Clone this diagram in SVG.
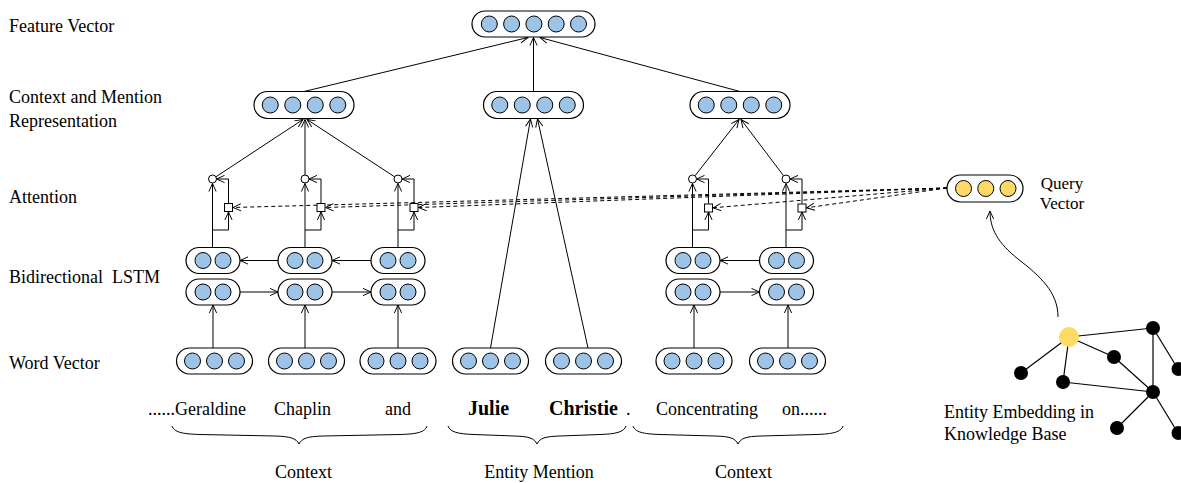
<svg xmlns="http://www.w3.org/2000/svg" width="1181" height="483" viewBox="0 0 1181 483">
<style>
.pill{fill:#fff;stroke:#000;stroke-width:1.2}
.b{fill:#9DC3E6;stroke:#000;stroke-width:1}
.yq{fill:#FFD966;stroke:#000;stroke-width:1}
.c line,.c polyline,.c path{stroke:#000;stroke-width:1;fill:none}
.dash{stroke-dasharray:4 3}
.att{fill:#fff;stroke:#000;stroke-width:1}
.t{font-family:"Liberation Serif","Times New Roman",serif;font-size:18px;fill:#000}
.bold{font-weight:bold;font-size:20px}
.gk{fill:#000}
.gy{fill:#FFD966}
.ge line{stroke:#000;stroke-width:1.2}
.brace{fill:none;stroke:#000;stroke-width:1}
</style>
<defs>
<marker id="arr" viewBox="0 0 10 10" refX="10" refY="5" markerWidth="8" markerHeight="8" markerUnits="userSpaceOnUse" orient="auto" overflow="visible">
<path d="M0,0.5 L10,5 L0,9.5" fill="none" stroke="#000" stroke-width="1.2"/>
</marker>
</defs>

<!-- left labels -->
<g id="labels">
<text class="t" x="9" y="32">Feature Vector</text>
<text class="t" x="9" y="103">Context and Mention</text>
<text class="t" x="9" y="127">Representation</text>
<text class="t" x="9" y="203">Attention</text>
<text class="t" x="9" y="283" xml:space="preserve">Bidirectional  LSTM</text>
<text class="t" x="9" y="369">Word Vector</text>
</g>

<!-- connectors -->
<g id="connectors" class="c">
<line x1="304" y1="91.5" x2="528" y2="37.5" marker-end="url(#arr)"/>
<line x1="533.5" y1="91.5" x2="533.5" y2="37.5" marker-end="url(#arr)"/>
<line x1="740" y1="91.5" x2="540" y2="37.5" marker-end="url(#arr)"/>
<line x1="490.5" y1="348" x2="530.5" y2="119" marker-end="url(#arr)"/>
<line x1="588" y1="348" x2="537.5" y2="119" marker-end="url(#arr)"/>

<!-- attention to representation -->
<line x1="215.9" y1="176.8" x2="303" y2="119.5" marker-end="url(#arr)"/>
<line x1="305" y1="175" x2="305" y2="119.5" marker-end="url(#arr)"/>
<line x1="394.6" y1="176.8" x2="307" y2="119.5" marker-end="url(#arr)"/>
<line x1="695" y1="175.8" x2="739" y2="119.5" marker-end="url(#arr)"/>
<line x1="783.6" y1="175.8" x2="741" y2="119.5" marker-end="url(#arr)"/>

<!-- attention internals -->
<line x1="212.5" y1="247.5" x2="212.5" y2="183.5" marker-end="url(#arr)"/>
<polyline points="212.5,230 228.5,230 228.5,212" marker-end="url(#arr)"/>
<polyline points="228.5,203.5 228.5,179 216.5,179" marker-end="url(#arr)"/>
<line x1="305" y1="247.5" x2="305" y2="183.5" marker-end="url(#arr)"/>
<polyline points="305,230 321,230 321,212" marker-end="url(#arr)"/>
<polyline points="321,203.5 321,179 309,179" marker-end="url(#arr)"/>
<line x1="398" y1="247.5" x2="398" y2="183.5" marker-end="url(#arr)"/>
<polyline points="398,230 414,230 414,212" marker-end="url(#arr)"/>
<polyline points="414,203.5 414,179 402,179" marker-end="url(#arr)"/>
<line x1="692.5" y1="247.5" x2="692.5" y2="183.5" marker-end="url(#arr)"/>
<polyline points="692.5,230 708.5,230 708.5,212" marker-end="url(#arr)"/>
<polyline points="708.5,203.5 708.5,179 696.5,179" marker-end="url(#arr)"/>
<line x1="786" y1="247.5" x2="786" y2="183.5" marker-end="url(#arr)"/>
<polyline points="786,230 802,230 802,212" marker-end="url(#arr)"/>
<polyline points="802,203.5 802,179 790,179" marker-end="url(#arr)"/>

<!-- query dashed -->
<line class="dash" x1="947" y1="188" x2="233" y2="207.5" marker-end="url(#arr)"/>
<line class="dash" x1="947" y1="188" x2="325.5" y2="207.5" marker-end="url(#arr)"/>
<line class="dash" x1="947" y1="188" x2="418.5" y2="207.5" marker-end="url(#arr)"/>
<line class="dash" x1="947" y1="188" x2="713" y2="207.8" marker-end="url(#arr)"/>
<line class="dash" x1="947" y1="188" x2="806.5" y2="207.8" marker-end="url(#arr)"/>

<!-- LSTM horizontal -->
<line x1="278" y1="260.5" x2="240" y2="260.5" marker-end="url(#arr)"/>
<line x1="371" y1="260.5" x2="332" y2="260.5" marker-end="url(#arr)"/>
<line x1="759.5" y1="260.5" x2="720" y2="260.5" marker-end="url(#arr)"/>
<line x1="240" y1="292" x2="278" y2="292" marker-end="url(#arr)"/>
<line x1="332" y1="292" x2="371" y2="292" marker-end="url(#arr)"/>
<line x1="720" y1="292" x2="759.5" y2="292" marker-end="url(#arr)"/>

<!-- word to LSTM -->
<line x1="213" y1="348" x2="213" y2="305" marker-end="url(#arr)"/>
<line x1="305" y1="348" x2="305" y2="305" marker-end="url(#arr)"/>
<line x1="398" y1="348" x2="398" y2="305" marker-end="url(#arr)"/>
<line x1="694" y1="348" x2="694" y2="305" marker-end="url(#arr)"/>
<line x1="788" y1="348" x2="788" y2="305" marker-end="url(#arr)"/>

<!-- KB to query -->
<path d="M1058,317 C1058,292 1040,276 1018,259 C998,243 990,229 990,211" marker-end="url(#arr)"/>
</g>

<!-- attention nodes -->
<g id="attention1"><circle class="att" cx="212.5" cy="179" r="4"/><rect class="att" x="224.5" y="203.5" width="8" height="8"/></g>
<g id="attention2"><circle class="att" cx="305" cy="179" r="4"/><rect class="att" x="317" y="203.5" width="8" height="8"/></g>
<g id="attention3"><circle class="att" cx="398" cy="179" r="4"/><rect class="att" x="410" y="203.5" width="8" height="8"/></g>
<g id="attention4"><circle class="att" cx="692.5" cy="179" r="4"/><rect class="att" x="704.5" y="204" width="8" height="8"/></g>
<g id="attention5"><circle class="att" cx="786" cy="179" r="4"/><rect class="att" x="798" y="204" width="8" height="8"/></g>

<!-- feature vector -->
<g id="feature-vector">
<rect class="pill" x="472" y="11" width="123" height="26" rx="13"/>
<circle class="b" cx="489.3" cy="24" r="8"/><circle class="b" cx="511.6" cy="24" r="8"/><circle class="b" cx="533.9" cy="24" r="8"/><circle class="b" cx="556.2" cy="24" r="8"/><circle class="b" cx="578.5" cy="24" r="8"/>
</g>

<!-- representations -->
<g id="rep-left">
<rect class="pill" x="254" y="91.5" width="100" height="27" rx="13.5"/>
<circle class="b" cx="270.25" cy="105" r="8"/><circle class="b" cx="292.75" cy="105" r="8"/><circle class="b" cx="315.25" cy="105" r="8"/><circle class="b" cx="337.75" cy="105" r="8"/>
</g>
<g id="rep-mention">
<rect class="pill" x="483.5" y="91.5" width="100" height="27" rx="13.5"/>
<circle class="b" cx="499.75" cy="105" r="8"/><circle class="b" cx="522.25" cy="105" r="8"/><circle class="b" cx="544.75" cy="105" r="8"/><circle class="b" cx="567.25" cy="105" r="8"/>
</g>
<g id="rep-right">
<rect class="pill" x="690" y="91.5" width="100" height="27" rx="13.5"/>
<circle class="b" cx="706.25" cy="105" r="8"/><circle class="b" cx="728.75" cy="105" r="8"/><circle class="b" cx="751.25" cy="105" r="8"/><circle class="b" cx="773.75" cy="105" r="8"/>
</g>

<!-- LSTM -->
<g id="lstm1">
<rect class="pill" x="186" y="247.5" width="54" height="26" rx="13"/><circle class="b" cx="203" cy="260.5" r="8"/><circle class="b" cx="223" cy="260.5" r="8"/>
<rect class="pill" x="186" y="279" width="54" height="26" rx="13"/><circle class="b" cx="203" cy="292" r="8"/><circle class="b" cx="223" cy="292" r="8"/>
</g>
<g id="lstm2">
<rect class="pill" x="278" y="247.5" width="54" height="26" rx="13"/><circle class="b" cx="295" cy="260.5" r="8"/><circle class="b" cx="315" cy="260.5" r="8"/>
<rect class="pill" x="278" y="279" width="54" height="26" rx="13"/><circle class="b" cx="295" cy="292" r="8"/><circle class="b" cx="315" cy="292" r="8"/>
</g>
<g id="lstm3">
<rect class="pill" x="371" y="247.5" width="54" height="26" rx="13"/><circle class="b" cx="388" cy="260.5" r="8"/><circle class="b" cx="408" cy="260.5" r="8"/>
<rect class="pill" x="371" y="279" width="54" height="26" rx="13"/><circle class="b" cx="388" cy="292" r="8"/><circle class="b" cx="408" cy="292" r="8"/>
</g>
<g id="lstm4">
<rect class="pill" x="666" y="247.5" width="54" height="26" rx="13"/><circle class="b" cx="683" cy="260.5" r="8"/><circle class="b" cx="703" cy="260.5" r="8"/>
<rect class="pill" x="666" y="279" width="54" height="26" rx="13"/><circle class="b" cx="683" cy="292" r="8"/><circle class="b" cx="703" cy="292" r="8"/>
</g>
<g id="lstm5">
<rect class="pill" x="759.5" y="247.5" width="54" height="26" rx="13"/><circle class="b" cx="776.5" cy="260.5" r="8"/><circle class="b" cx="796.5" cy="260.5" r="8"/>
<rect class="pill" x="759.5" y="279" width="54" height="26" rx="13"/><circle class="b" cx="776.5" cy="292" r="8"/><circle class="b" cx="796.5" cy="292" r="8"/>
</g>

<!-- word vectors -->
<g id="word1"><rect class="pill" x="176.5" y="348" width="76" height="26" rx="13"/><circle class="b" cx="192.5" cy="361" r="8"/><circle class="b" cx="214.5" cy="361" r="8"/><circle class="b" cx="236.5" cy="361" r="8"/></g>
<g id="word2"><rect class="pill" x="268.5" y="348" width="76" height="26" rx="13"/><circle class="b" cx="284.5" cy="361" r="8"/><circle class="b" cx="306.5" cy="361" r="8"/><circle class="b" cx="328.5" cy="361" r="8"/></g>
<g id="word3"><rect class="pill" x="360" y="348" width="76" height="26" rx="13"/><circle class="b" cx="376" cy="361" r="8"/><circle class="b" cx="398" cy="361" r="8"/><circle class="b" cx="420" cy="361" r="8"/></g>
<g id="word4"><rect class="pill" x="452.5" y="348" width="76" height="26" rx="13"/><circle class="b" cx="468.5" cy="361" r="8"/><circle class="b" cx="490.5" cy="361" r="8"/><circle class="b" cx="512.5" cy="361" r="8"/></g>
<g id="word5"><rect class="pill" x="545.5" y="348" width="76" height="26" rx="13"/><circle class="b" cx="561.5" cy="361" r="8"/><circle class="b" cx="583.5" cy="361" r="8"/><circle class="b" cx="605.5" cy="361" r="8"/></g>
<g id="word6"><rect class="pill" x="656" y="348" width="76" height="26" rx="13"/><circle class="b" cx="672" cy="361" r="8"/><circle class="b" cx="694" cy="361" r="8"/><circle class="b" cx="716" cy="361" r="8"/></g>
<g id="word7"><rect class="pill" x="749.5" y="348" width="76" height="26" rx="13"/><circle class="b" cx="765.5" cy="361" r="8"/><circle class="b" cx="787.5" cy="361" r="8"/><circle class="b" cx="809.5" cy="361" r="8"/></g>

<!-- query vector -->
<g id="query-vector">
<rect class="pill" x="947" y="175" width="76" height="27" rx="13.5"/>
<circle class="yq" cx="963.5" cy="188.5" r="8"/><circle class="yq" cx="985.75" cy="188.5" r="8"/><circle class="yq" cx="1008" cy="188.5" r="8"/>
<text class="t" x="1062" y="189" text-anchor="middle" style="font-size:17px">Query</text>
<text class="t" x="1062" y="209" text-anchor="middle" style="font-size:17px">Vector</text>
</g>

<!-- knowledge graph -->
<g id="knowledge-graph">
<g class="ge">
<line x1="1069" y1="337" x2="1153" y2="328"/>
<line x1="1069" y1="337" x2="1114" y2="357"/>
<line x1="1069" y1="337" x2="1021" y2="373"/>
<line x1="1069" y1="337" x2="1063" y2="382"/>
<line x1="1063" y1="382" x2="1153" y2="392"/>
<line x1="1114" y1="357" x2="1153" y2="392"/>
<line x1="1153" y1="328" x2="1153" y2="392"/>
<line x1="1153" y1="328" x2="1178" y2="369"/>
<line x1="1153" y1="392" x2="1117" y2="428"/>
<line x1="1153" y1="392" x2="1178" y2="433"/>
</g>
<circle class="gy" cx="1069" cy="337" r="10"/>
<circle class="gk" cx="1153" cy="328" r="7"/>
<circle class="gk" cx="1114" cy="357" r="7"/>
<circle class="gk" cx="1021" cy="373" r="7"/>
<circle class="gk" cx="1063" cy="382" r="7"/>
<circle class="gk" cx="1153" cy="392" r="7"/>
<circle class="gk" cx="1178.5" cy="369" r="7"/>
<circle class="gk" cx="1117" cy="428" r="7"/>
<circle class="gk" cx="1178.5" cy="433" r="7"/>
<text class="t" x="944" y="418">Entity Embedding in</text>
<text class="t" x="944" y="440">Knowledge Base</text>
</g>

<!-- sentence -->
<g id="sentence">
<text class="t" x="148" y="415">......Geraldine</text>
<text class="t" x="274" y="415">Chaplin</text>
<text class="t" x="385" y="415">and</text>
<text class="t bold" x="468" y="415">Julie</text>
<text class="t bold" x="549" y="415">Christie</text>
<text class="t" x="626" y="415">.</text>
<text class="t" x="656" y="415">Concentrating</text>
<text class="t" x="782" y="415">on......</text>
</g>

<!-- braces -->
<g id="braces">
<path class="brace" d="M172,426 C174,432 182,434 200,434.5 L275,436 C290,436.5 296,438 299,444 C302,438 308,436.5 323,436 L400,434.5 C418,434 425,432 427,426"/>
<path class="brace" d="M448,426 C450,432 458,434 474,434.5 L514,436 C529,436.5 534,438 537,444 C540,438 545,436.5 560,436 L600,434.5 C616,434 624,432 626,426"/>
<path class="brace" d="M633,426 C635,432 643,434 660,434.5 L715,436 C730,436.5 735,438 738,444 C741,438 746,436.5 761,436 L816,434.5 C833,434 841,432 843,426"/>
<text class="t" x="303.5" y="478" text-anchor="middle">Context</text>
<text class="t" x="539" y="478" text-anchor="middle">Entity Mention</text>
<text class="t" x="743.5" y="478" text-anchor="middle">Context</text>
</g>
</svg>
